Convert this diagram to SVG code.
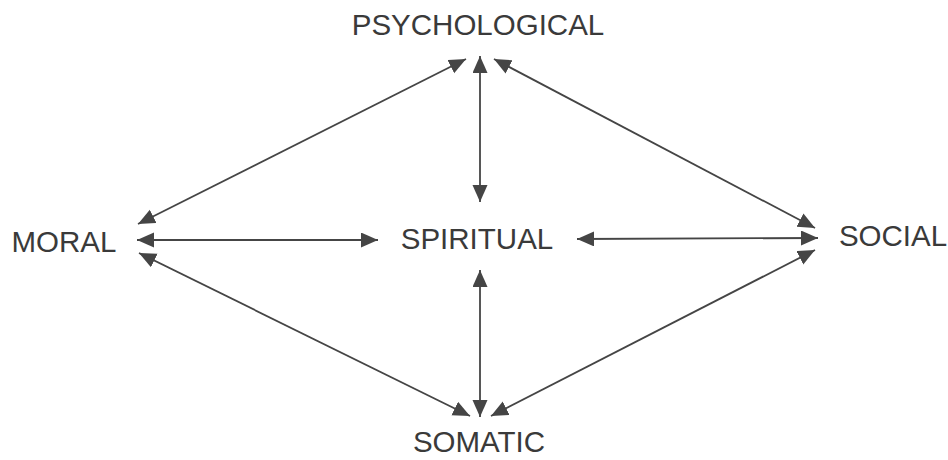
<svg xmlns="http://www.w3.org/2000/svg" width="948" height="460" viewBox="0 0 948 460">
<style>
.lbl{font-family:"Liberation Sans",Arial,sans-serif;font-size:29.5px;fill:#3a3a3a;text-anchor:middle}
.c{stroke:#454545;stroke-width:1.8;fill:none;marker-start:url(#ah);marker-end:url(#ah)}
</style>
<defs>
<marker id="ah" markerUnits="userSpaceOnUse" markerWidth="18" markerHeight="16" refX="17" refY="7.5" orient="auto-start-reverse" viewBox="0 0 18 16">
<path d="M0,0 L17,7.5 L0,15 z" fill="#454545"/>
</marker>
</defs>
<rect width="948" height="460" fill="#fff"/>
<g id="connectors">
<line class="c" x1="138" y1="224" x2="466" y2="59"/>
<line class="c" x1="494" y1="59" x2="815" y2="228"/>
<line class="c" x1="480" y1="56" x2="480" y2="202"/>
<line class="c" x1="137" y1="240" x2="378" y2="240"/>
<line class="c" x1="577" y1="239" x2="818" y2="238"/>
<line class="c" x1="139" y1="253" x2="470" y2="416"/>
<line class="c" x1="480" y1="270" x2="480" y2="417"/>
<line class="c" x1="491" y1="416" x2="815" y2="250"/>
</g>
<g id="psychological"><text class="lbl" x="478" y="35">PSYCHOLOGICAL</text></g>
<g id="moral"><text class="lbl" x="64" y="252">MORAL</text></g>
<g id="spiritual"><text class="lbl" x="477" y="249">SPIRITUAL</text></g>
<g id="social"><text class="lbl" x="893" y="246">SOCIAL</text></g>
<g id="somatic"><text class="lbl" x="479" y="452">SOMATIC</text></g>
</svg>
